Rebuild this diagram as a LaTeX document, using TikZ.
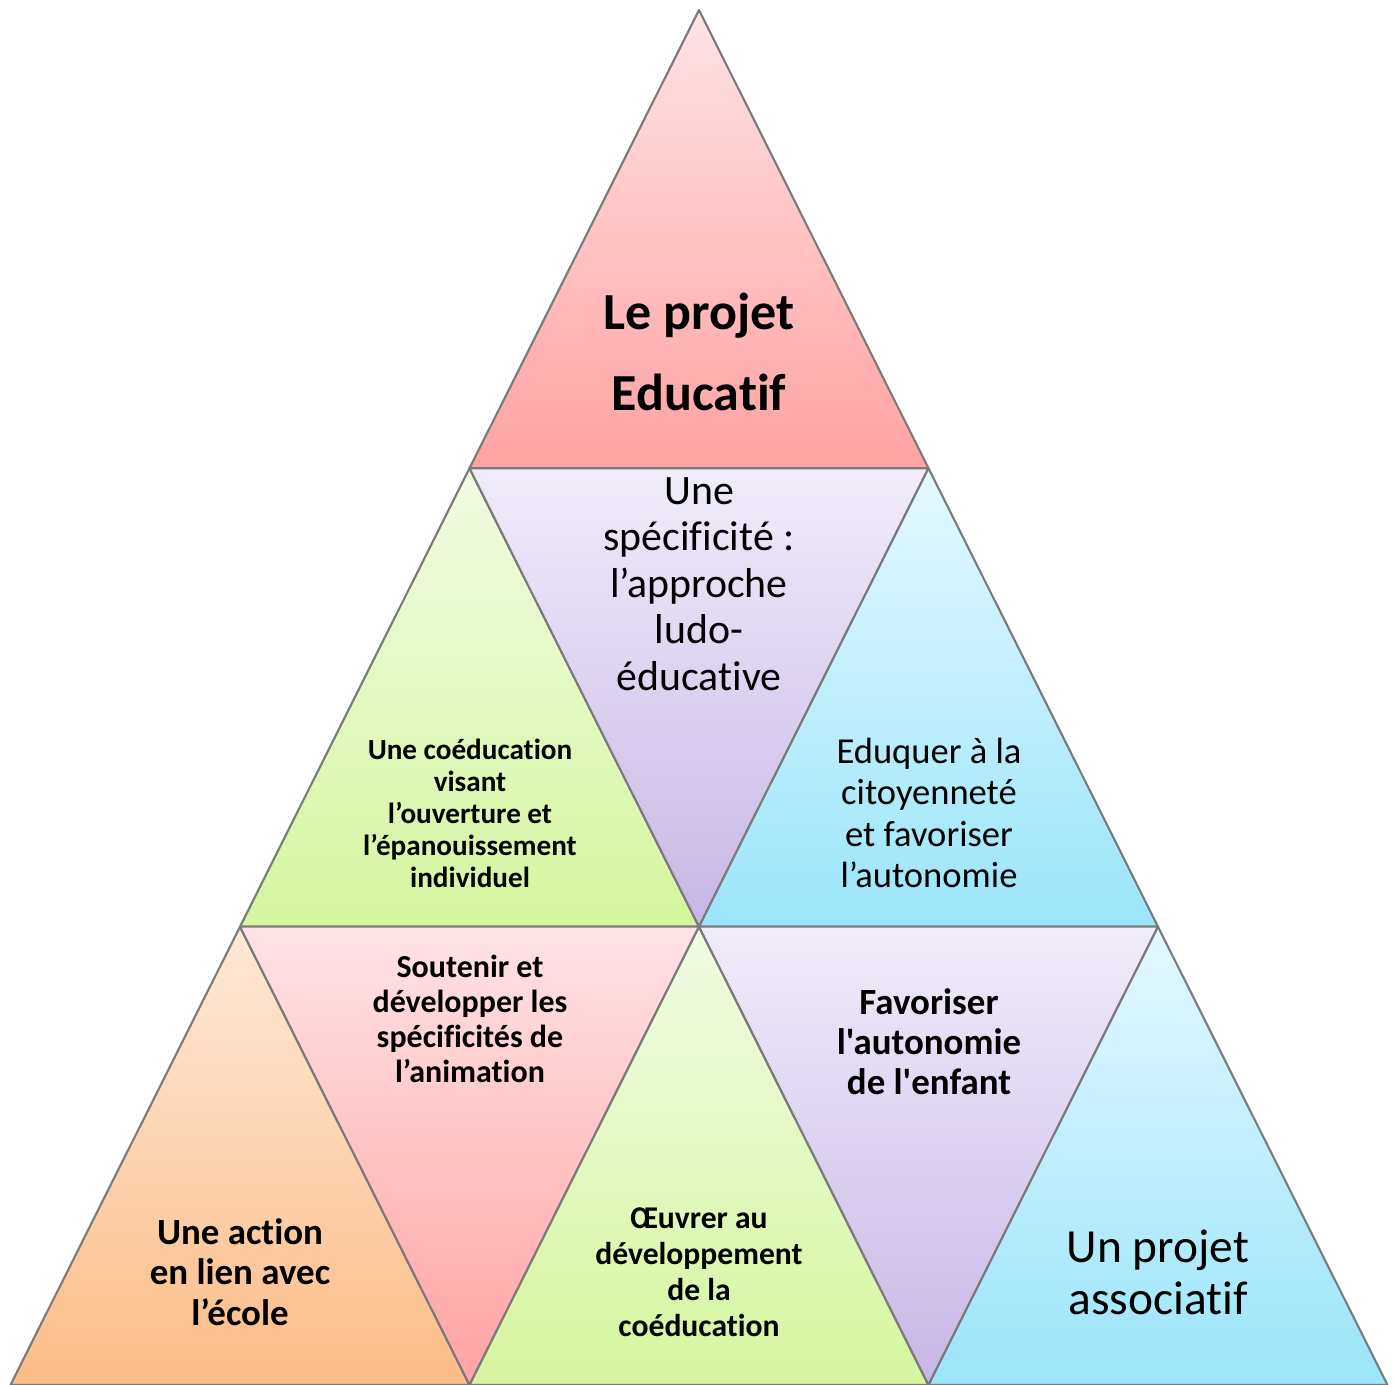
\documentclass[tikz,border=0pt]{standalone}
\usepackage{fontspec}
\setmainfont[Ligatures={TeX,NoCommon}]{Carlito}
\newfontfamily\straightfont[Ligatures=NoCommon]{Carlito}
\usepackage{xcolor}
\usetikzlibrary{positioning}

\definecolor{pinktop}{HTML}{FFE3E6}
\definecolor{pinkbot}{HTML}{FFA2A2}
\definecolor{greentop}{HTML}{F1FBE3}
\definecolor{greenbot}{HTML}{D5F59E}
\definecolor{purpletop}{HTML}{F0ECF9}
\definecolor{purplebot}{HTML}{C8B6E6}
\definecolor{bluetop}{HTML}{E4F8FE}
\definecolor{bluebot}{HTML}{9BE5FB}
\definecolor{orangetop}{HTML}{FFE9D8}
\definecolor{orangebot}{HTML}{FBBC86}
\definecolor{edge}{HTML}{7A7A7A}

\begin{document}
\begin{tikzpicture}[x=0.1mm, y=-0.1mm,
    tri/.style={draw=edge, line width=0.6pt, line join=round},
    pinktri/.style={tri, top color=pinktop, bottom color=pinkbot},
    greentri/.style={tri, top color=greentop, bottom color=greenbot},
    purpletri/.style={tri, top color=purpletop, bottom color=purplebot},
    bluetri/.style={tri, top color=bluetop, bottom color=bluebot},
    orangetri/.style={tri, top color=orangetop, bottom color=orangebot},
    lbl/.style={align=center, inner sep=0pt, text=black}]

    \useasboundingbox (0,0) rectangle (1395,1385);

    % Corner points of the grid
    \coordinate (a)  at (699,10);
    \coordinate (b1) at (469.5,468.3);
    \coordinate (b2) at (928.5,468.3);
    \coordinate (c1) at (240,926.7);
    \coordinate (c2) at (699,926.7);
    \coordinate (c3) at (1158,926.7);
    \coordinate (d1) at (10.5,1385);
    \coordinate (d2) at (469.5,1385);
    \coordinate (d3) at (928.5,1385);
    \coordinate (d4) at (1387.5,1385);

    % Top row
    \draw [pinktri] (a) -- (b1) -- (b2) -- cycle;

    % Middle row
    \draw [greentri] (b1) -- (c1) -- (c2) -- cycle;
    \draw [purpletri] (b1) -- (b2) -- (c2) -- cycle;
    \draw [bluetri] (b2) -- (c2) -- (c3) -- cycle;

    % Bottom row
    \draw [orangetri] (c1) -- (d1) -- (d2) -- cycle;
    \draw [pinktri] (c1) -- (c2) -- (d2) -- cycle;
    \draw [greentri] (c2) -- (d2) -- (d3) -- cycle;
    \draw [purpletri] (c2) -- (c3) -- (d3) -- cycle;
    \draw [bluetri] (c3) -- (d3) -- (d4) -- cycle;

    % Labels
    \node [lbl, font=\fontsize{14.8}{22.8}\selectfont\bfseries] (educ) at (699,352)
        {Le projet\\Educatif};
    \node [lbl, font=\fontsize{11.9}{13.2}\selectfont] (ludo) at (699,584)
        {Une\\spécificité :\\l’approche\\ludo-\\éducative};
    \node [lbl, font=\fontsize{8.3}{9.1}\selectfont\bfseries] (coed) at (470,813)
        {Une coéducation\\visant\\l’ouverture et\\l’épanouissement\\individuel};
    \node [lbl, font=\fontsize{10.4}{11.7}\selectfont] (citoy) at (929,813)
        {Eduquer à la\\citoyenneté\\et favoriser\\l’autonomie};
    \node [lbl, font=\fontsize{9.1}{10}\selectfont\bfseries] (anim) at (470,1019)
        {Soutenir et\\développer les\\spécificités de\\l’animation};
    \node [lbl, font=\straightfont\fontsize{10.5}{11.4}\selectfont\bfseries] (auto) at (929,1042)
        {Favoriser\\l'autonomie\\de l'enfant};
    \node [lbl, font=\fontsize{10.5}{11.5}\selectfont\bfseries] (ecole) at (240,1272)
        {Une action\\en lien avec\\l’école};
    \node [lbl, font=\fontsize{9}{10.2}\selectfont\bfseries] (oeuv) at (699,1272)
        {Œuvrer au\\développement\\de la\\coéducation};
    \node [lbl, font=\fontsize{13.5}{14.8}\selectfont] (asso) at (1158,1272)
        {Un projet\\associatif};
\end{tikzpicture}
\end{document}
